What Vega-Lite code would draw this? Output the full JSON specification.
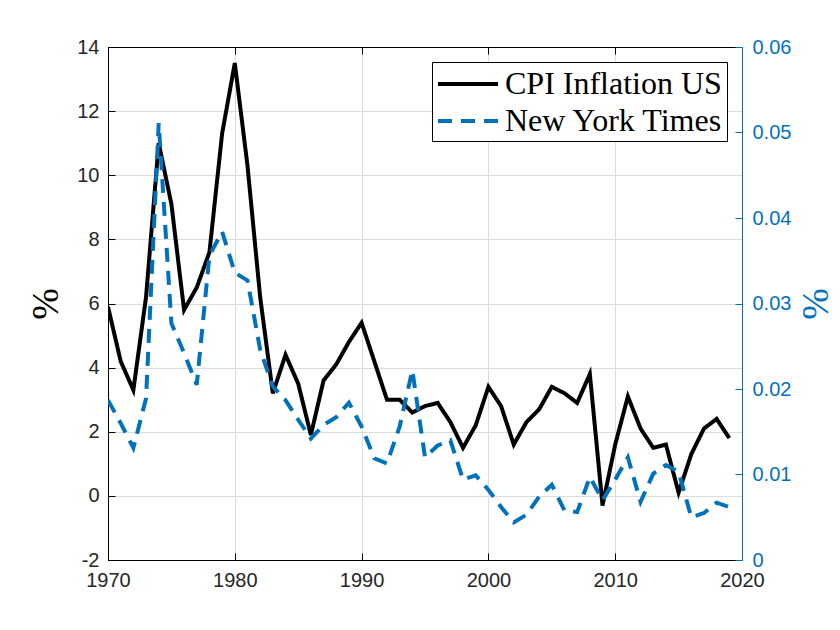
{
  "$schema": "https://vega.github.io/schema/vega-lite/v6.json",
  "width": 634,
  "height": 513,
  "autosize": {"type": "none"},
  "padding": {"left": 108, "top": 47, "right": 98, "bottom": 70},
  "background": "white",
  "config": {
    "view": {"stroke": "black", "strokeWidth": 1},
    "axis": {
      "labelFont": "Liberation Sans",
      "labelFontSize": 20,
      "labelColor": "#262626",
      "labelFlush": false,
      "gridColor": "#dcdcdc",
      "gridWidth": 1,
      "domainWidth": 1
    }
  },
  "datasets": {
    "cpi": [
      {"year": 1970, "series": "CPI Inflation US", "value": 5.9},
      {"year": 1971, "series": "CPI Inflation US", "value": 4.2},
      {"year": 1972, "series": "CPI Inflation US", "value": 3.3},
      {"year": 1973, "series": "CPI Inflation US", "value": 6.2},
      {"year": 1974, "series": "CPI Inflation US", "value": 11.0},
      {"year": 1975, "series": "CPI Inflation US", "value": 9.1},
      {"year": 1976, "series": "CPI Inflation US", "value": 5.8},
      {"year": 1977, "series": "CPI Inflation US", "value": 6.5},
      {"year": 1978, "series": "CPI Inflation US", "value": 7.6},
      {"year": 1979, "series": "CPI Inflation US", "value": 11.3},
      {"year": 1980, "series": "CPI Inflation US", "value": 13.5},
      {"year": 1981, "series": "CPI Inflation US", "value": 10.3},
      {"year": 1982, "series": "CPI Inflation US", "value": 6.2},
      {"year": 1983, "series": "CPI Inflation US", "value": 3.2},
      {"year": 1984, "series": "CPI Inflation US", "value": 4.4},
      {"year": 1985, "series": "CPI Inflation US", "value": 3.5},
      {"year": 1986, "series": "CPI Inflation US", "value": 1.9},
      {"year": 1987, "series": "CPI Inflation US", "value": 3.6},
      {"year": 1988, "series": "CPI Inflation US", "value": 4.1},
      {"year": 1989, "series": "CPI Inflation US", "value": 4.8},
      {"year": 1990, "series": "CPI Inflation US", "value": 5.4},
      {"year": 1991, "series": "CPI Inflation US", "value": 4.2},
      {"year": 1992, "series": "CPI Inflation US", "value": 3.0},
      {"year": 1993, "series": "CPI Inflation US", "value": 3.0},
      {"year": 1994, "series": "CPI Inflation US", "value": 2.6},
      {"year": 1995, "series": "CPI Inflation US", "value": 2.8},
      {"year": 1996, "series": "CPI Inflation US", "value": 2.9},
      {"year": 1997, "series": "CPI Inflation US", "value": 2.3},
      {"year": 1998, "series": "CPI Inflation US", "value": 1.5},
      {"year": 1999, "series": "CPI Inflation US", "value": 2.2},
      {"year": 2000, "series": "CPI Inflation US", "value": 3.4},
      {"year": 2001, "series": "CPI Inflation US", "value": 2.8},
      {"year": 2002, "series": "CPI Inflation US", "value": 1.6},
      {"year": 2003, "series": "CPI Inflation US", "value": 2.3},
      {"year": 2004, "series": "CPI Inflation US", "value": 2.7},
      {"year": 2005, "series": "CPI Inflation US", "value": 3.4},
      {"year": 2006, "series": "CPI Inflation US", "value": 3.2},
      {"year": 2007, "series": "CPI Inflation US", "value": 2.9},
      {"year": 2008, "series": "CPI Inflation US", "value": 3.8},
      {"year": 2009, "series": "CPI Inflation US", "value": -0.3},
      {"year": 2010, "series": "CPI Inflation US", "value": 1.6},
      {"year": 2011, "series": "CPI Inflation US", "value": 3.1},
      {"year": 2012, "series": "CPI Inflation US", "value": 2.1},
      {"year": 2013, "series": "CPI Inflation US", "value": 1.5},
      {"year": 2014, "series": "CPI Inflation US", "value": 1.6},
      {"year": 2015, "series": "CPI Inflation US", "value": 0.1},
      {"year": 2016, "series": "CPI Inflation US", "value": 1.3},
      {"year": 2017, "series": "CPI Inflation US", "value": 2.1},
      {"year": 2018, "series": "CPI Inflation US", "value": 2.4},
      {"year": 2019, "series": "CPI Inflation US", "value": 1.8}
    ],
    "nyt": [
      {"year": 1970, "series": "New York Times", "value": 0.0187},
      {"year": 1971, "series": "New York Times", "value": 0.0160},
      {"year": 1972, "series": "New York Times", "value": 0.0131},
      {"year": 1973, "series": "New York Times", "value": 0.0189},
      {"year": 1974, "series": "New York Times", "value": 0.0511},
      {"year": 1975, "series": "New York Times", "value": 0.0277},
      {"year": 1976, "series": "New York Times", "value": 0.0242},
      {"year": 1977, "series": "New York Times", "value": 0.0205},
      {"year": 1978, "series": "New York Times", "value": 0.0356},
      {"year": 1979, "series": "New York Times", "value": 0.0384},
      {"year": 1980, "series": "New York Times", "value": 0.0336},
      {"year": 1981, "series": "New York Times", "value": 0.0327},
      {"year": 1982, "series": "New York Times", "value": 0.0246},
      {"year": 1983, "series": "New York Times", "value": 0.0203},
      {"year": 1984, "series": "New York Times", "value": 0.0187},
      {"year": 1985, "series": "New York Times", "value": 0.0164},
      {"year": 1986, "series": "New York Times", "value": 0.0142},
      {"year": 1987, "series": "New York Times", "value": 0.0158},
      {"year": 1988, "series": "New York Times", "value": 0.0167},
      {"year": 1989, "series": "New York Times", "value": 0.0184},
      {"year": 1990, "series": "New York Times", "value": 0.0156},
      {"year": 1991, "series": "New York Times", "value": 0.0119},
      {"year": 1992, "series": "New York Times", "value": 0.0113},
      {"year": 1993, "series": "New York Times", "value": 0.0156},
      {"year": 1994, "series": "New York Times", "value": 0.0222},
      {"year": 1995, "series": "New York Times", "value": 0.0120},
      {"year": 1996, "series": "New York Times", "value": 0.0134},
      {"year": 1997, "series": "New York Times", "value": 0.0140},
      {"year": 1998, "series": "New York Times", "value": 0.0094},
      {"year": 1999, "series": "New York Times", "value": 0.0099},
      {"year": 2000, "series": "New York Times", "value": 0.0082},
      {"year": 2001, "series": "New York Times", "value": 0.0062},
      {"year": 2002, "series": "New York Times", "value": 0.0044},
      {"year": 2003, "series": "New York Times", "value": 0.0053},
      {"year": 2004, "series": "New York Times", "value": 0.0074},
      {"year": 2005, "series": "New York Times", "value": 0.0088},
      {"year": 2006, "series": "New York Times", "value": 0.0058},
      {"year": 2007, "series": "New York Times", "value": 0.0056},
      {"year": 2008, "series": "New York Times", "value": 0.0097},
      {"year": 2009, "series": "New York Times", "value": 0.0070},
      {"year": 2010, "series": "New York Times", "value": 0.0094},
      {"year": 2011, "series": "New York Times", "value": 0.0120},
      {"year": 2012, "series": "New York Times", "value": 0.0068},
      {"year": 2013, "series": "New York Times", "value": 0.0101},
      {"year": 2014, "series": "New York Times", "value": 0.0111},
      {"year": 2015, "series": "New York Times", "value": 0.0103},
      {"year": 2016, "series": "New York Times", "value": 0.0050},
      {"year": 2017, "series": "New York Times", "value": 0.0055},
      {"year": 2018, "series": "New York Times", "value": 0.0067},
      {"year": 2019, "series": "New York Times", "value": 0.0062}
    ]
  },
  "layer": [
    {
      "data": {"name": "cpi"},
      "mark": {"type": "line", "strokeWidth": 4, "opacity": 0, "clip": true},
      "encoding": {
        "x": {"field": "year", "type": "quantitative", "scale": {"domain": [1970, 2020], "nice": false, "zero": false},
          "axis": {"orient": "top", "title": null, "labels": false, "grid": false, "values": [1970, 1980, 1990, 2000, 2010, 2020], "tickSize": -7, "tickColor": "black", "domainColor": "black"}},
        "y": {"field": "value", "type": "quantitative", "scale": {"domain": [-2, 14], "nice": false, "zero": false}, "axis": null}
      }
    },
    {
      "data": {"name": "cpi"},
      "mark": {"type": "line", "strokeWidth": 4, "clip": true},
      "encoding": {
        "x": {"field": "year", "type": "quantitative", "scale": {"domain": [1970, 2020], "nice": false, "zero": false},
          "axis": {"orient": "bottom", "title": null, "labelExpr": "'' + datum.value", "values": [1970, 1980, 1990, 2000, 2010, 2020], "tickSize": -7, "tickColor": "black", "domainColor": "black", "labelPadding": 17, "grid": true}},
        "y": {"field": "value", "type": "quantitative", "scale": {"domain": [-2, 14], "nice": false, "zero": false},
          "axis": {"orient": "left", "title": "%", "titleFont": "Liberation Serif", "titleFontSize": 38, "titleFontWeight": "normal", "titleColor": "black", "titleAngle": -90, "titlePadding": 11, "values": [-2, 0, 2, 4, 6, 8, 10, 12, 14], "labelExpr": "'' + datum.value", "tickSize": -7, "tickColor": "black", "domainColor": "black", "labelPadding": 16, "grid": true}},
        "color": {"field": "series", "type": "nominal",
          "scale": {"domain": ["CPI Inflation US", "New York Times"], "range": ["black", "#0072BD"]},
          "legend": {"orient": "top-right", "offset": 15, "title": null, "strokeColor": "black", "fillColor": "white", "padding": 4,
            "labelFont": "Liberation Serif", "labelFontSize": 32, "labelColor": "black", "labelOffset": 33, "labelLimit": 400,
            "symbolType": "M-1,0H2.75", "symbolSize": 1024, "symbolStrokeWidth": 4, "rowPadding": 3, "cornerRadius": 0}},
        "strokeDash": {"field": "series", "type": "nominal",
          "scale": {"domain": ["CPI Inflation US", "New York Times"], "range": [[1, 0], [14, 9]]}, "legend": null}
      }
    },
    {
      "data": {"name": "nyt"},
      "mark": {"type": "line", "strokeWidth": 4, "clip": true},
      "encoding": {
        "x": {"field": "year", "type": "quantitative", "scale": {"domain": [1970, 2020], "nice": false, "zero": false}, "axis": null},
        "y": {"field": "value", "type": "quantitative", "scale": {"domain": [0, 0.06], "nice": false, "zero": false},
          "axis": {"orient": "right", "title": "%", "titleFont": "Liberation Serif", "titleFontSize": 38, "titleFontWeight": "normal", "titleColor": "#0072BD", "titleAngle": -90, "titleBaseline": "top", "titlePadding": 7, "values": [0, 0.01, 0.02, 0.03, 0.04, 0.05, 0.06], "format": ".2~f", "tickSize": -7, "tickColor": "#0072BD", "domainColor": "#0072BD", "labelColor": "#0072BD", "labelPadding": 17, "grid": false}},
        "color": {"field": "series", "type": "nominal"},
        "strokeDash": {"field": "series", "type": "nominal"}
      }
    }
  ],
  "resolve": {"scale": {"y": "independent"}}
}
